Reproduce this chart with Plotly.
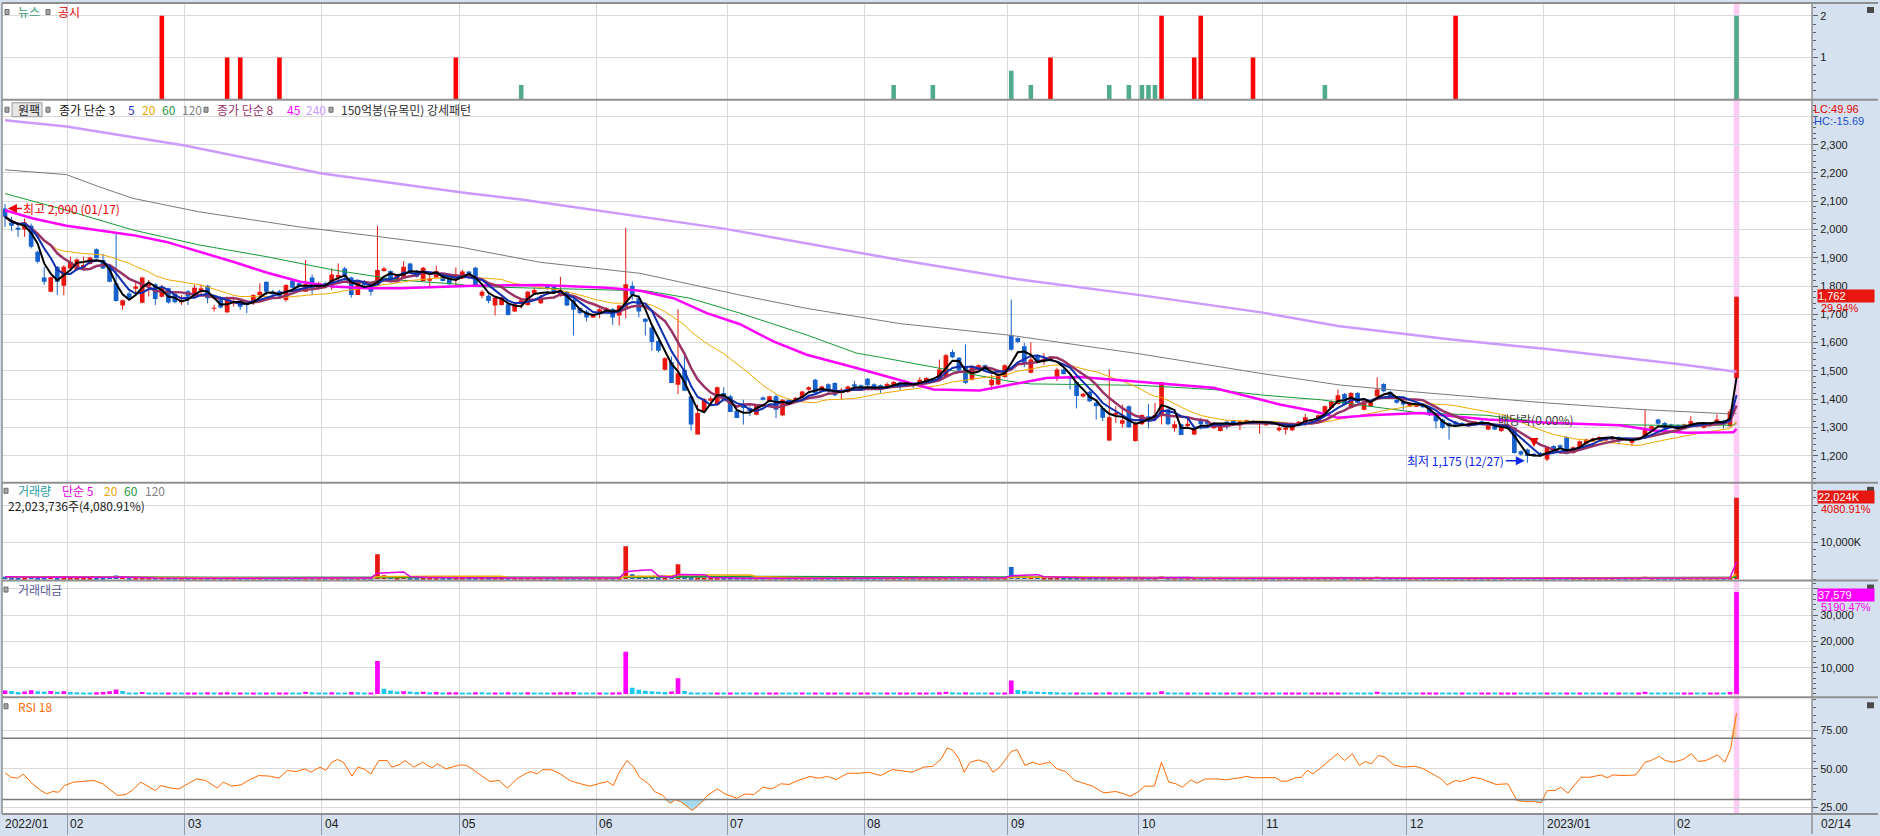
import numpy as np
import pandas as pd
import plotly.graph_objects as go
from plotly.subplots import make_subplots

# ---- daily candles (index 0 = 2022/01/17 ... 265 = 2023/02/14) ----
opens = [
    2074, 2025, 2006, 2000, 2013, 1921, 1830, 1780, 1868, 1801,
    1862, 1857, 1867, 1878, 1930, 1892, 1865, 1810, 1731, 1774,
    1792, 1741, 1801, 1806, 1762, 1792, 1772, 1743, 1782, 1763,
    1786, 1801, 1720, 1759, 1707, 1739, 1748, 1742, 1743, 1768,
    1815, 1780, 1782, 1751, 1820, 1810, 1780, 1830, 1792, 1810,
    1801, 1830, 1862, 1830, 1768, 1818, 1810, 1804, 1853, 1853,
    1815, 1827, 1880, 1854, 1818, 1820, 1830, 1833, 1839, 1827,
    1827, 1851, 1865, 1766, 1766, 1731, 1733, 1736, 1710, 1742,
    1733, 1774, 1739, 1801, 1801, 1766, 1780, 1751, 1722, 1710,
    1689, 1707, 1714, 1719, 1696, 1727, 1801, 1757, 1684, 1653,
    1606, 1504, 1531, 1451, 1504, 1410, 1275, 1357, 1395, 1380,
    1422, 1410, 1359, 1380, 1369, 1345, 1406, 1392, 1410, 1343,
    1398, 1392, 1406, 1433, 1469, 1430, 1453, 1457, 1422, 1425,
    1453, 1449, 1472, 1453, 1449, 1440, 1449, 1459, 1449, 1456,
    1454, 1458, 1461, 1469, 1478, 1567, 1546, 1516, 1469, 1508,
    1520, 1449, 1452, 1478, 1626, 1616, 1587, 1493, 1555, 1534,
    1539, 1475, 1505, 1480, 1461, 1409, 1426, 1387, 1369, 1254,
    1346, 1313, 1375, 1252, 1311, 1340, 1334, 1340, 1364, 1297,
    1311, 1305, 1275, 1325, 1322, 1297, 1287, 1320, 1325, 1308,
    1315, 1322, 1311, 1308, 1318, 1290, 1293, 1290, 1311, 1311,
    1311, 1322, 1352, 1369, 1383, 1418, 1369, 1422, 1363, 1375,
    1410, 1454, 1426, 1398, 1390, 1375, 1375, 1383, 1369, 1351,
    1328, 1316, 1320, 1316, 1304, 1308, 1322, 1293, 1308, 1287,
    1308, 1299, 1216, 1222, 1207, 1210, 1187, 1234, 1237, 1266,
    1210, 1228, 1242, 1251, 1257, 1254, 1257, 1266, 1263, 1246,
    1257, 1263, 1289, 1328, 1316, 1310, 1308, 1299, 1313, 1304,
    1299, 1308, 1316, 1324, 1304, 1475,
]
highs = [
    2090, 2045, 2021, 2039, 2021, 1925, 1868, 1833, 1870, 1874,
    1904, 1898, 1904, 1904, 1933, 1912, 1868, 1986, 1752, 1780,
    1815, 1833, 1821, 1810, 1804, 1794, 1780, 1768, 1786, 1804,
    1806, 1804, 1733, 1763, 1763, 1757, 1751, 1751, 1771, 1810,
    1816, 1786, 1786, 1806, 1821, 1821, 1892, 1841, 1816, 1816,
    1862, 1880, 1868, 1833, 1821, 1821, 1816, 2013, 1868, 1856,
    1841, 1888, 1882, 1857, 1868, 1839, 1872, 1836, 1841, 1866,
    1857, 1853, 1868, 1786, 1771, 1761, 1761, 1739, 1738, 1757,
    1783, 1795, 1769, 1804, 1804, 1833, 1783, 1757, 1724, 1716,
    1702, 1722, 1726, 1722, 1733, 2006, 1816, 1769, 1686, 1657,
    1610, 1548, 1551, 1718, 1551, 1416, 1380, 1404, 1410, 1445,
    1442, 1416, 1362, 1398, 1375, 1381, 1410, 1412, 1416, 1400,
    1402, 1408, 1430, 1445, 1472, 1448, 1456, 1460, 1439, 1448,
    1465, 1452, 1475, 1456, 1452, 1459, 1464, 1462, 1459, 1459,
    1478, 1478, 1472, 1540, 1560, 1575, 1549, 1593, 1519, 1523,
    1523, 1487, 1505, 1523, 1752, 1619, 1599, 1601, 1558, 1563,
    1551, 1511, 1508, 1487, 1464, 1422, 1429, 1393, 1375, 1505,
    1375, 1381, 1378, 1320, 1346, 1383, 1387, 1461, 1370, 1323,
    1313, 1334, 1295, 1334, 1328, 1319, 1315, 1325, 1327, 1325,
    1328, 1325, 1323, 1321, 1320, 1305, 1311, 1317, 1323, 1348,
    1325, 1346, 1378, 1395, 1434, 1422, 1425, 1425, 1396, 1392,
    1477, 1457, 1429, 1401, 1402, 1390, 1384, 1386, 1372, 1355,
    1331, 1318, 1323, 1319, 1316, 1323, 1325, 1316, 1311, 1307,
    1311, 1302, 1219, 1225, 1210, 1213, 1233, 1237, 1240, 1269,
    1233, 1254, 1260, 1264, 1269, 1266, 1269, 1269, 1266, 1260,
    1266, 1363, 1307, 1331, 1319, 1313, 1311, 1313, 1340, 1316,
    1316, 1319, 1346, 1327, 1365, 1762,
]
lows = [
    2009, 1995, 1974, 1974, 1933, 1880, 1804, 1778, 1768, 1768,
    1860, 1855, 1856, 1876, 1898, 1860, 1813, 1745, 1716, 1752,
    1769, 1739, 1763, 1733, 1760, 1738, 1739, 1733, 1733, 1761,
    1768, 1739, 1710, 1721, 1704, 1727, 1716, 1704, 1733, 1757,
    1768, 1762, 1757, 1745, 1792, 1792, 1780, 1768, 1786, 1792,
    1786, 1815, 1821, 1759, 1768, 1792, 1766, 1804, 1851, 1813,
    1813, 1825, 1849, 1830, 1816, 1792, 1827, 1816, 1804, 1801,
    1825, 1835, 1801, 1757, 1739, 1696, 1731, 1696, 1708, 1721,
    1731, 1771, 1736, 1786, 1776, 1762, 1729, 1625, 1702, 1675,
    1687, 1686, 1710, 1663, 1660, 1686, 1751, 1689, 1625, 1571,
    1565, 1501, 1457, 1418, 1430, 1289, 1275, 1355, 1390, 1378,
    1392, 1355, 1333, 1310, 1340, 1343, 1395, 1390, 1333, 1340,
    1385, 1390, 1404, 1430, 1416, 1425, 1422, 1410, 1398, 1422,
    1443, 1430, 1446, 1436, 1422, 1437, 1447, 1433, 1446, 1440,
    1452, 1452, 1458, 1464, 1475, 1545, 1499, 1454, 1466, 1505,
    1498, 1434, 1450, 1475, 1572, 1598, 1513, 1491, 1526, 1522,
    1536, 1464, 1487, 1434, 1367, 1406, 1390, 1328, 1322, 1252,
    1316, 1299, 1299, 1250, 1309, 1297, 1322, 1311, 1308, 1285,
    1273, 1299, 1273, 1293, 1305, 1295, 1285, 1293, 1309, 1290,
    1313, 1311, 1278, 1306, 1309, 1285, 1275, 1287, 1309, 1305,
    1309, 1320, 1350, 1367, 1381, 1378, 1366, 1384, 1360, 1372,
    1406, 1424, 1401, 1384, 1363, 1372, 1372, 1368, 1340, 1296,
    1295, 1257, 1310, 1305, 1301, 1305, 1310, 1290, 1290, 1284,
    1293, 1207, 1200, 1175, 1196, 1196, 1181, 1219, 1225, 1204,
    1207, 1225, 1239, 1248, 1254, 1251, 1254, 1240, 1254, 1234,
    1254, 1260, 1286, 1310, 1293, 1296, 1280, 1296, 1310, 1301,
    1296, 1305, 1313, 1296, 1301, 1470,
]
closes = [
    2045, 2013, 2001, 2025, 1939, 1886, 1815, 1831, 1815, 1868,
    1886, 1894, 1874, 1901, 1898, 1862, 1815, 1747, 1750, 1757,
    1798, 1830, 1811, 1754, 1792, 1742, 1743, 1751, 1763, 1794,
    1792, 1757, 1723, 1724, 1759, 1747, 1727, 1733, 1768, 1780,
    1780, 1771, 1763, 1804, 1794, 1804, 1806, 1790, 1810, 1804,
    1841, 1839, 1833, 1768, 1818, 1804, 1780, 1857, 1862, 1815,
    1839, 1868, 1851, 1833, 1865, 1827, 1853, 1818, 1806, 1841,
    1851, 1837, 1801, 1780, 1747, 1759, 1759, 1698, 1736, 1750,
    1780, 1786, 1759, 1790, 1778, 1783, 1731, 1716, 1704, 1689,
    1700, 1718, 1722, 1689, 1731, 1806, 1769, 1710, 1674, 1602,
    1571, 1545, 1457, 1492, 1430, 1310, 1351, 1400, 1402, 1442,
    1398, 1355, 1333, 1369, 1357, 1378, 1398, 1410, 1363, 1398,
    1390, 1404, 1427, 1442, 1422, 1445, 1427, 1414, 1433, 1445,
    1445, 1433, 1449, 1439, 1433, 1454, 1461, 1452, 1456, 1447,
    1469, 1475, 1469, 1505, 1555, 1548, 1501, 1458, 1516, 1520,
    1501, 1469, 1485, 1520, 1575, 1602, 1528, 1540, 1528, 1543,
    1548, 1505, 1489, 1473, 1411, 1419, 1393, 1375, 1334, 1336,
    1352, 1325, 1301, 1313, 1344, 1332, 1344, 1461, 1311, 1311,
    1273, 1313, 1293, 1311, 1313, 1317, 1313, 1311, 1311, 1322,
    1325, 1313, 1320, 1318, 1311, 1299, 1299, 1311, 1320, 1336,
    1322, 1343, 1375, 1393, 1414, 1381, 1422, 1387, 1393, 1387,
    1434, 1428, 1404, 1387, 1381, 1387, 1381, 1371, 1343, 1322,
    1298, 1304, 1313, 1308, 1313, 1320, 1313, 1313, 1293, 1304,
    1296, 1210, 1204, 1199, 1199, 1202, 1228, 1222, 1228, 1207,
    1230, 1251, 1257, 1261, 1266, 1263, 1266, 1251, 1257, 1257,
    1263, 1293, 1304, 1313, 1296, 1299, 1296, 1310, 1322, 1313,
    1313, 1316, 1328, 1310, 1356, 1762,
]
# volume in thousand shares
volume_k = [
    620, 540, 380, 450, 700, 520, 480, 600, 430, 520,
    380, 340, 300, 280, 350, 400, 560, 950, 620, 330,
    300, 420, 280, 260, 240, 310, 230, 200, 220, 300,
    250, 340, 180, 210, 380, 200, 240, 190, 260, 220,
    280, 200, 230, 320, 260, 210, 480, 330, 240, 230,
    350, 310, 280, 420, 330, 260, 300, 6750, 1050, 720,
    520, 560, 480, 400, 460, 330, 390, 300, 330, 350,
    300, 280, 350, 330, 260, 300, 250, 380, 260, 240,
    350, 300, 260, 240, 300, 330, 380, 420, 300, 260,
    200, 220, 210, 300, 380, 8900, 1300, 900, 700, 650,
    520, 450, 600, 4000, 750, 500, 400, 330, 280, 300,
    240, 260, 220, 200, 190, 230, 200, 210, 250, 230,
    200, 190, 220, 210, 260, 200, 210, 230, 190, 200,
    180, 200, 240, 190, 180, 210, 200, 230, 260, 240,
    280, 320, 300, 420, 500, 380, 330, 420, 300, 280,
    260, 300, 280, 330, 3250, 900, 700, 600, 550, 500,
    480, 420, 380, 350, 400, 330, 300, 360, 280, 450,
    330, 280, 300, 280, 260, 280, 250, 700, 450, 300,
    280, 330, 250, 220, 260, 240, 220, 230, 210, 220,
    200, 210, 190, 200, 210, 180, 190, 200, 220, 210,
    230, 250, 290, 320, 350, 330, 300, 280, 260, 240,
    600, 350, 280, 240, 220, 210, 200, 220, 250, 280,
    260, 230, 200, 210, 200, 190, 200, 210, 190, 220,
    230, 450, 350, 300, 250, 220, 280, 230, 200, 260,
    230, 240, 210, 200, 190, 200, 180, 210, 200, 190,
    220, 650, 380, 300, 260, 230, 200, 210, 380, 240,
    230, 250, 300, 260, 540, 22023.736,
]

# longer moving averages (bar index, price)
ma45_x = [0, 4.3, 9.4, 19.6, 24.7, 29.8, 34.9, 40, 45.2, 50.2, 55.4, 60.4, 69.6, 71.7, 81.9, 92.1,
          97.2, 102.3, 107.4, 112.5, 117.6, 122.7, 130.3, 136.9, 142.1, 149.2, 153.8, 159.4, 164.5,
          173.7, 179.8, 184.9, 190, 195.1, 200.2, 204, 208.9, 216.6, 226.8, 237, 247.2, 252.3,
          257.4, 264.5, 265]
ma45_y = [2068, 2039, 2013, 1980, 1956, 1921, 1886, 1848, 1815, 1798, 1792, 1792, 1798, 1801, 1804, 1794,
          1783, 1757, 1704, 1665, 1604, 1557, 1510, 1469, 1434, 1431, 1452, 1475, 1478,
          1461, 1452, 1440, 1411, 1381, 1358, 1334, 1343, 1351, 1328, 1316, 1308, 1289,
          1281, 1283, 1294]
ma60_x = [0, 9.4, 19.6, 29.8, 40, 50.2, 60.4, 69.6, 71.7, 81.9, 92.1, 98.2, 104.8, 112.5, 122.7,
          130.3, 134, 144.1, 153.8, 156.9, 173.7, 184.9, 192.6, 201.3, 216.6, 226.8, 237, 252.3,
          264.5, 265]
ma60_y = [2127, 2068, 1998, 1945, 1904, 1857, 1821, 1806, 1798, 1792, 1786, 1783, 1757, 1704, 1627,
          1563, 1548, 1505, 1463, 1454, 1449, 1434, 1414, 1398, 1351, 1343, 1313, 1308,
          1308, 1315]
ma120_x = [0, 9.4, 14.5, 19.6, 29.8, 45.1, 55.4, 69.6, 81.9, 97.2, 112.5, 122.7, 137, 153.8,
           173.7, 192.5, 204.3, 214.6, 235.7, 250.7, 264, 265]
ma120_y = [2211, 2194, 2150, 2110, 2062, 2009, 1980, 1938, 1884, 1845, 1768, 1721, 1667, 1626,
           1560, 1490, 1450, 1428, 1387, 1363, 1348, 1350]
ma240_x = [0, 9.4, 27.5, 48.5, 70, 79, 110, 137, 155, 174, 192.5, 204, 221, 236, 256, 265]
ma240_y = [2386, 2364, 2297, 2198, 2131, 2106, 2003, 1892, 1824, 1767, 1706, 1659, 1612, 1577, 1524, 1497]

# RSI 18
rsi_x = [0, 0.9, 1.9, 2.8, 4.2, 5.5, 6.4, 7.3, 8.2, 9.1, 10.5, 11.8, 13.6, 15, 16.3, 17.2, 18.5, 19.4,
         20.8, 21.7, 23, 23.9, 25.3, 26.6, 28, 29.3, 30.7, 32.5, 33.4, 34.7, 36.1, 37.4, 38.8, 40.6,
         41.9, 43.2, 44.6, 45.9, 46.8, 48.2, 49.1, 50, 50.9, 51.8, 53.1, 54, 54.9, 56, 57.2, 58.5,
         59.2, 60.3, 61.2, 62.6, 63.9, 65.3, 66.2, 67.5, 68.4, 69.7, 70.6, 71.5, 72.9, 74.2, 75.6,
         76.9, 78.3, 79.6, 80.5, 81.4, 82.3, 83.7, 85, 86.4, 88.1, 89.5, 90.8, 92.2, 93.1, 94, 95.2,
         96.2, 97.1, 98.5, 99.4, 100.7, 101.8, 102.6, 103.4, 104.3, 105.2, 106.6, 107.5, 109, 110.2,
         112, 113.3, 114.6, 116, 117.4, 118.7, 120, 121.4, 123.2, 124.5, 125.9, 127.2, 129, 130.8,
         132.2, 134, 135.8, 137.6, 138.8, 140.6, 142, 143.3, 144.2, 145.1, 146, 146.8, 147.7, 149,
         150.3, 151.2, 152.1, 153, 154, 154.9, 156.1, 157.3, 158.3, 159.9, 161, 162.3, 163.7, 164.6,
         166.4, 168.2, 170, 171.3, 172.2, 173.5, 174.4, 175.9, 177, 178.1, 179.2, 180.2, 181.5,
         182.4, 183.7, 185.5, 186.8, 188.6, 190, 191.3, 193, 194.4, 195.3, 196.2, 197.5, 198.4,
         199.3, 200.2, 201.5, 202.8, 203.9, 205, 206.2, 207.3, 208.2, 209.1, 210.2, 211.2, 212.5,
         214, 215.8, 217.1, 218.4, 219.8, 220.7, 222, 222.9, 224.7, 226, 227.4, 228.2, 230, 231.4,
         232.7, 234.1, 235.1, 236, 237.2, 238.1, 239.2, 241.2, 242.5, 244.3, 245.2, 246.1, 247.8,
         249.6, 251, 251.9, 253.2, 254.1, 255.4, 256.8, 258.1, 259.1, 260.3, 262.1, 263.2, 264.1, 265]
rsi_y = [47.4, 44.5, 43.9, 46.5, 40.2, 35.8, 33.6, 35.2, 34.7, 39.1, 41.3, 41.9, 42.4, 40.2, 35.8, 32.6, 33.2, 35.8,
         41.3, 39.1, 35.8, 39.1, 37.4, 36.9, 40.2, 43.4, 42.4, 37.4, 41.3, 38.7, 39.5, 42.8, 45.6, 45.2,
         43.9, 48.9, 48.2, 50, 47.8, 51.1, 48.9, 54.3, 56.1, 54.3, 45.2, 51.1, 50, 46.7, 55.4, 55.4,
         51.1, 52.6, 55.4, 51.1, 54.3, 50.6, 53.2, 50, 51.1, 52.6, 52.2, 50, 45.6, 41.7, 42.4,
         37.4, 43.4, 46.7, 48.2, 46.7, 49.5, 49.3, 46.7, 42.4, 40.2, 38.7, 40.2, 41.7, 39.1, 47.8, 55.4,
         51.1, 44.5, 40.2, 35.2, 32.6, 27.5, 29.8, 28.5, 25.5, 22.8, 28.2, 32.6, 36.9, 33.6,
         30.8, 33.6, 33.2, 38, 36.9, 40.2, 39.8, 42.4, 45, 43.9, 45, 43, 47.1, 47.1,
         47.8, 45.6, 49.5, 48.2, 47.8, 51.1, 51.7, 56.5, 63.7, 61.9, 56.5, 47.8, 54.3, 55.8,
         53.9, 47.8, 50.4, 55.4, 61.3, 62.6, 52.2, 54.3, 52.8, 54.3, 50, 48.2, 42.4, 41.3,
         38.7, 34.3, 35.2, 33.6, 32.1, 35.2, 38.7, 38.7, 54.3, 41.3, 40.2, 38, 42.8,
         40.6, 43.4, 43.4, 42.8, 43.9, 45, 44.1, 44.1, 44.3, 41.9, 41.9, 44.1, 44.5,
         48.9, 46.7, 51.1, 55.8, 59.8, 55.4, 59.8, 52.2, 54.8, 53.2, 58.7, 57.6, 52.6,
         51.1, 51.7, 50, 46.7, 43.4, 39.5, 42.4, 41.7, 44.5, 43.4, 41.3, 39.8, 40.2, 29.3,
         28.6, 28.6, 27.8, 35.8, 35.8, 38, 34.1, 44.5, 44.5, 46, 44.1, 46, 45.6,
         46, 54.3, 55.4, 58.2, 55.4, 54.3, 56.1, 59.8, 54.8, 55.4, 59.1, 54.3, 63, 86.3]

# news (green) and disclosures (red) in the top strip
news_idx = [79, 136, 142, 154, 157, 169, 172, 174, 175, 176, 202, 265]
news_h = [0.34, 0.34, 0.34, 0.68, 0.34, 0.34, 0.34, 0.34, 0.34, 0.34, 0.34, 2.0]
disc_idx = [24, 34, 36, 42, 69, 160, 177, 182, 183, 191, 222]
disc_h = [2, 1, 1, 1, 1, 1, 2, 1, 2, 1, 2]

# first trading day of each month (bar index) and labels
month_idx = [10, 28, 49, 70, 91, 111, 132, 154, 174, 193, 215, 236, 256]
month_lbl = ["02", "03", "04", "05", "06", "07", "08", "09", "10", "11", "12", "2023/01", "02"]

# ---------------------------------------------------------------
W, H = 1880, 836
ML, MR, MT, MB = 2, 68, 3, 20
PW, PH = W - ML - MR, H - MT - MB
KR = "Noto Sans CJK KR"
NUM = "Liberation Sans"
RED, BLUE = "#e8170f", "#1762cc"


def fx(px):
    return (px - ML) / PW


def fy(py):
    return 1 - (py - MT) / PH


n = len(closes)
idx = np.arange(n)
o, h, l, c = (np.array(a, dtype=float) for a in (opens, highs, lows, closes))
up = c >= o
ccol = np.where(up, RED, BLUE)

cs = pd.Series(c)
ma3 = cs.rolling(3, min_periods=1).mean()
ma5 = cs.rolling(5, min_periods=1).mean()
ma8 = cs.rolling(8, min_periods=1).mean()
ma20 = cs.rolling(20, min_periods=1).mean()

vol = np.array(volume_k) * 1000
vs = pd.Series(vol)
value = vol * c / 1e6  # 백만원
vcol = ["#ff00ff"] + ["#ff00ff" if value[i] >= value[i - 1] else "#1ec8f0" for i in range(1, n)]

fig = make_subplots(rows=5, cols=1, shared_xaxes=True, vertical_spacing=0)

# row 1: news / disclosures
fig.add_trace(go.Bar(x=disc_idx, y=disc_h, width=0.7, marker=dict(color="#ff0000", line_width=0)), row=1, col=1)
fig.add_trace(go.Bar(x=news_idx, y=news_h, width=0.7, marker=dict(color="#50aa8c", line_width=0)), row=1, col=1)

# row 2: candles
body_base = np.minimum(o, c)
body_h = np.maximum(np.abs(c - o), 2.5)
for mask, col in ((up, RED), (~up, BLUE)):
    wx, wy = [], []
    for i in idx[mask]:
        wx += [i, i, None]
        wy += [l[i], h[i], None]
    fig.add_trace(go.Scatter(x=wx, y=wy, mode="lines", line=dict(color=col, width=1),
                             hoverinfo="skip"), row=2, col=1)
fig.add_trace(go.Bar(x=idx, y=body_h, base=body_base, width=0.72,
                     marker=dict(color=ccol, line_width=0)), row=2, col=1)

for xs, ys, col, wd in ((ma240_x, ma240_y, "#cc99ff", 2.5),
                        (ma120_x, ma120_y, "#7a7a7a", 1),
                        (ma60_x, ma60_y, "#139a35", 1),
                        (idx, ma20, "#f0a800", 1),
                        (ma45_x, ma45_y, "#ff00ff", 2.5),
                        (idx, ma8, "#993366", 2.5),
                        (idx, ma5, "#1030b0", 2),
                        (idx, ma3, "#000000", 2)):
    fig.add_trace(go.Scatter(x=xs, y=ys, mode="lines", line=dict(color=col, width=wd),
                             hoverinfo="skip"), row=2, col=1)

# row 3: volume
fig.add_trace(go.Bar(x=idx, y=vol, width=0.72, marker=dict(color=ccol, line_width=0)), row=3, col=1)
for win, col in ((120, "#7a7a7a"), (60, "#139a35"), (20, "#f0a800"), (5, "#e000e0")):
    fig.add_trace(go.Scatter(x=idx, y=vs.rolling(win, min_periods=1).mean(), mode="lines",
                             line=dict(color=col, width=1.5), hoverinfo="skip"), row=3, col=1)

# row 4: trading value
fig.add_trace(go.Bar(x=idx, y=value, width=0.72, marker=dict(color=vcol, line_width=0)), row=4, col=1)

# row 5: RSI with fills beyond 30 / 70
ry = np.array(rsi_y)
fig.add_trace(go.Scatter(x=rsi_x, y=[30] * len(ry), mode="lines", line=dict(width=0), hoverinfo="skip"), row=5, col=1)
fig.add_trace(go.Scatter(x=rsi_x, y=np.minimum(ry, 30), mode="lines", line=dict(width=0), fill="tonexty",
                         fillcolor="#a6d8ee", hoverinfo="skip"), row=5, col=1)
fig.add_trace(go.Scatter(x=rsi_x, y=[70] * len(ry), mode="lines", line=dict(width=0), hoverinfo="skip"), row=5, col=1)
fig.add_trace(go.Scatter(x=rsi_x, y=np.maximum(ry, 70), mode="lines", line=dict(width=0), fill="tonexty",
                         fillcolor="#f9c9a3", hoverinfo="skip"), row=5, col=1)
fig.add_trace(go.Scatter(x=rsi_x, y=ry, mode="lines", line=dict(color="#ff6a00", width=1),
                         hoverinfo="skip"), row=5, col=1)

# ---- axes ----
panels = [(3, 100), (100, 484), (484, 582), (582, 699), (699, 816)]
for k, (top, bot) in enumerate(panels, start=1):
    fig.update_layout({f"yaxis{k if k > 1 else ''}": dict(domain=[max(fy(bot), 0), min(fy(top), 1)])})

xgrid = [m - 0.5 for m in month_idx]
fig.update_xaxes(range=[-0.46, 276.55], tickvals=xgrid, showticklabels=False, showgrid=True,
                 gridcolor="#d9d9d9", gridwidth=1, zeroline=False, showline=False)
fig.update_xaxes(ticks="outside", ticklen=20, tickcolor="#8f9bb0", row=5, col=1)

yax = dict(side="right", showgrid=True, gridcolor="#d9d9d9", zeroline=False, showline=False,
           ticks="outside", ticklen=5, tickcolor="#606060",
           tickfont=dict(family=NUM, size=11, color="#202020"))
fig.update_yaxes(**yax)
fig.update_yaxes(range=[-0.017, 2.309], tickvals=[1, 2], ticktext=["1", "2"],
                 minor=dict(ticks="outside", ticklen=3, tickcolor="#606060", dtick=0.2, showgrid=False), row=1, col=1)
ptick = list(range(1200, 2401, 100))
fig.update_yaxes(range=[1104.2, 2458.7], tickvals=ptick,
                 ticktext=[f"{v:,}" if v < 2400 else "" for v in ptick],
                 minor=dict(ticks="outside", ticklen=3, tickcolor="#606060", dtick=20, showgrid=False), row=2, col=1)
fig.update_yaxes(range=[-0.405e6, 26.08e6], tickvals=[10e6, 20e6], ticktext=["10,000K", ""],
                 minor=dict(ticks="outside", ticklen=3, tickcolor="#606060", dtick=2e6, showgrid=False), row=3, col=1)
fig.update_yaxes(range=[-1293, 43194], tickvals=[10000, 20000, 30000, 40000],
                 ticktext=["10,000", "20,000", "30,000", ""],
                 minor=dict(ticks="outside", ticklen=3, tickcolor="#606060", dtick=2000, showgrid=False), row=4, col=1)
fig.update_yaxes(range=[20.5, 96.7], tickvals=[25, 50, 75], ticktext=["25.00", "50.00", "75.00"],
                 minor=dict(ticks="outside", ticklen=3, tickcolor="#606060", dtick=5, showgrid=False), row=5, col=1)

# ---- shapes ----
shapes = []
for k in range(1, 6):
    s = "" if k == 1 else str(k)
    shapes.append(dict(type="rect", xref=f"x{s}", yref=f"y{s} domain", x0=264.56, x1=265.44, y0=0, y1=1,
                       fillcolor="#ffccf4", line_width=0, layer="below"))
for yv in (30, 70):
    shapes.append(dict(type="line", xref="x5 domain", yref="y5", x0=0, x1=1, y0=yv, y1=yv,
                       line=dict(color="#7a7a7a", width=1.5)))
for py in (3, 100, 484, 582, 699, 816):
    shapes.append(dict(type="line", xref="paper", yref="paper", x0=fx(2), x1=fx(1878), y0=fy(py), y1=fy(py),
                       line=dict(color="#8f8f8f", width=2)))
shapes.append(dict(type="line", xref="paper", yref="paper", x0=fx(1812), x1=fx(1812), y0=fy(3), y1=fy(836),
                   line=dict(color="#8f8f8f", width=1.5)))
shapes.append(dict(type="line", xref="paper", yref="paper", x0=fx(2), x1=fx(2), y0=fy(3), y1=fy(816),
                   line=dict(color="#8f8f8f", width=1.5)))


def sq(px, py):
    shapes.append(dict(type="rect", xref="paper", yref="paper", x0=fx(px), x1=fx(px + 4),
                       y0=fy(py + 2.5), y1=fy(py - 2.5), fillcolor="#a8a8a8",
                       line=dict(color="#6a6a6a", width=1)))


sq(5, 12); sq(46, 12)
sq(5, 110); sq(46, 110); sq(204, 110); sq(329, 110)
sq(4, 492); sq(4, 591); sq(4, 708)
shapes.append(dict(type="rect", xref="paper", yref="paper", x0=fx(12), x1=fx(42), y0=fy(117), y1=fy(103),
                   fillcolor="#e6e6e6", line=dict(color="#9a9a9a", width=1)))
for py in (7, 488, 586, 704):
    shapes.append(dict(type="rect", xref="paper", yref="paper", x0=fx(1867), x1=fx(1874), y0=fy(py + 6),
                       y1=fy(py), fillcolor="#4a4a4a", line_width=0))

# ---- text ----
anns = []


def txt(s, px, py, color, size=12, family=KR, **kw):
    anns.append(dict(text=s, x=fx(px), y=fy(py), xref="paper", yref="paper", xanchor="left",
                     yanchor="middle", showarrow=False, font=dict(family=family, size=size, color=color), **kw))


txt("뉴스", 16, 12, "#3c9c78")
txt("공시", 56, 12, "#e00000")
txt("원팩", 16, 110, "#202020")
txt("종가 단순 3", 57, 110, "#111111")
txt("5", 126, 110, "#1a3ab8")
txt("20", 140, 110, "#e8a400")
txt("60", 160, 110, "#1f9a3c")
txt("120", 180, 110, "#7f7f7f")
txt("종가 단순 8", 215, 110, "#993366")
txt("45", 285, 110, "#ff00ff")
txt("240", 304, 110, "#c89cff")
txt("150억봉(유목민) 강세패턴", 339, 110, "#303030")
txt("거래량", 16, 492, "#1e9c9c")
txt("단순 5", 60, 492, "#e000e0")
txt("20", 102, 492, "#e8a400")
txt("60", 122, 492, "#1f9a3c")
txt("120", 143, 492, "#7f7f7f")
txt("22,023,736주(4,080.91%)", 6, 507, "#202020")
txt("거래대금", 16, 591, "#5a5a9a")
txt("RSI 18", 16, 708, "#ff6a00")

txt("LC:49.96", 1812, 109, "#e80000", size=11, family=NUM)
txt("HC:-15.69", 1812, 121, "#1a50d0", size=11, family=NUM)
txt("1,762", 1817, 297, "#ffffff", size=11, family=NUM, bgcolor="#e8170f", width=56, height=12,
    align="left", borderpad=0)
txt("29.94%", 1819, 309, "#e80000", size=11, family=NUM)
txt("22,024K", 1817, 498, "#ffffff", size=11, family=NUM, bgcolor="#e8170f", width=56, height=12,
    align="left", borderpad=0)
txt("4080.91%", 1819, 510, "#e80000", size=11, family=NUM)
txt("37,579", 1817, 596, "#ffffff", size=11, family=NUM, bgcolor="#ff00ff", width=56, height=12,
    align="left", borderpad=0)
txt("5190.47%", 1819, 608, "#ff00ff", size=11, family=NUM)

txt("2022/01", 3, 826, "#202020", family=NUM)
for m, lab in zip(month_idx, month_lbl):
    txt(lab, 5 + (m - 0.5) * 6.534 + 1, 826, "#202020", family=NUM)
txt("02/14", 1819, 826, "#202020", family=NUM)

txt("배당락(0.00%)", 1496, 421, "#404040")
anns.append(dict(text="최고 2,090 (01/17)", x=0.45, y=2074, xref="x2", yref="y2", ax=64, ay=0,
                 showarrow=True, arrowhead=2, arrowsize=1.2, arrowwidth=1.5, arrowcolor="#ee0000",
                 font=dict(family=KR, size=12, color="#ee0000")))
anns.append(dict(text="최저 1,175 (12/27)", x=232.6, y=1182, xref="x2", yref="y2", ax=-69, ay=0,
                 showarrow=True, arrowhead=2, arrowsize=1.2, arrowwidth=1.5, arrowcolor="#0a28e8",
                 font=dict(family=KR, size=12, color="#0a28e8")))
anns.append(dict(text=" ", x=234, y=1231, xref="x2", yref="y2", ax=0, ay=-18,
                 showarrow=True, arrowhead=2, arrowsize=1.2, arrowwidth=1.5, arrowcolor="#e80000"))

fig.update_layout(width=W, height=H, margin=dict(l=ML, r=MR, t=MT, b=MB),
                  paper_bgcolor="#d5e1ef", plot_bgcolor="#ffffff", showlegend=False,
                  font=dict(family=KR, size=12), shapes=shapes, annotations=anns, barmode="overlay")

# page body margin off so the figure sits at the window's top-left corner
fig.write_html("out.html", config={"displayModeBar": False},
               post_script="document.body.style.margin='0';document.body.style.overflow='hidden';")
